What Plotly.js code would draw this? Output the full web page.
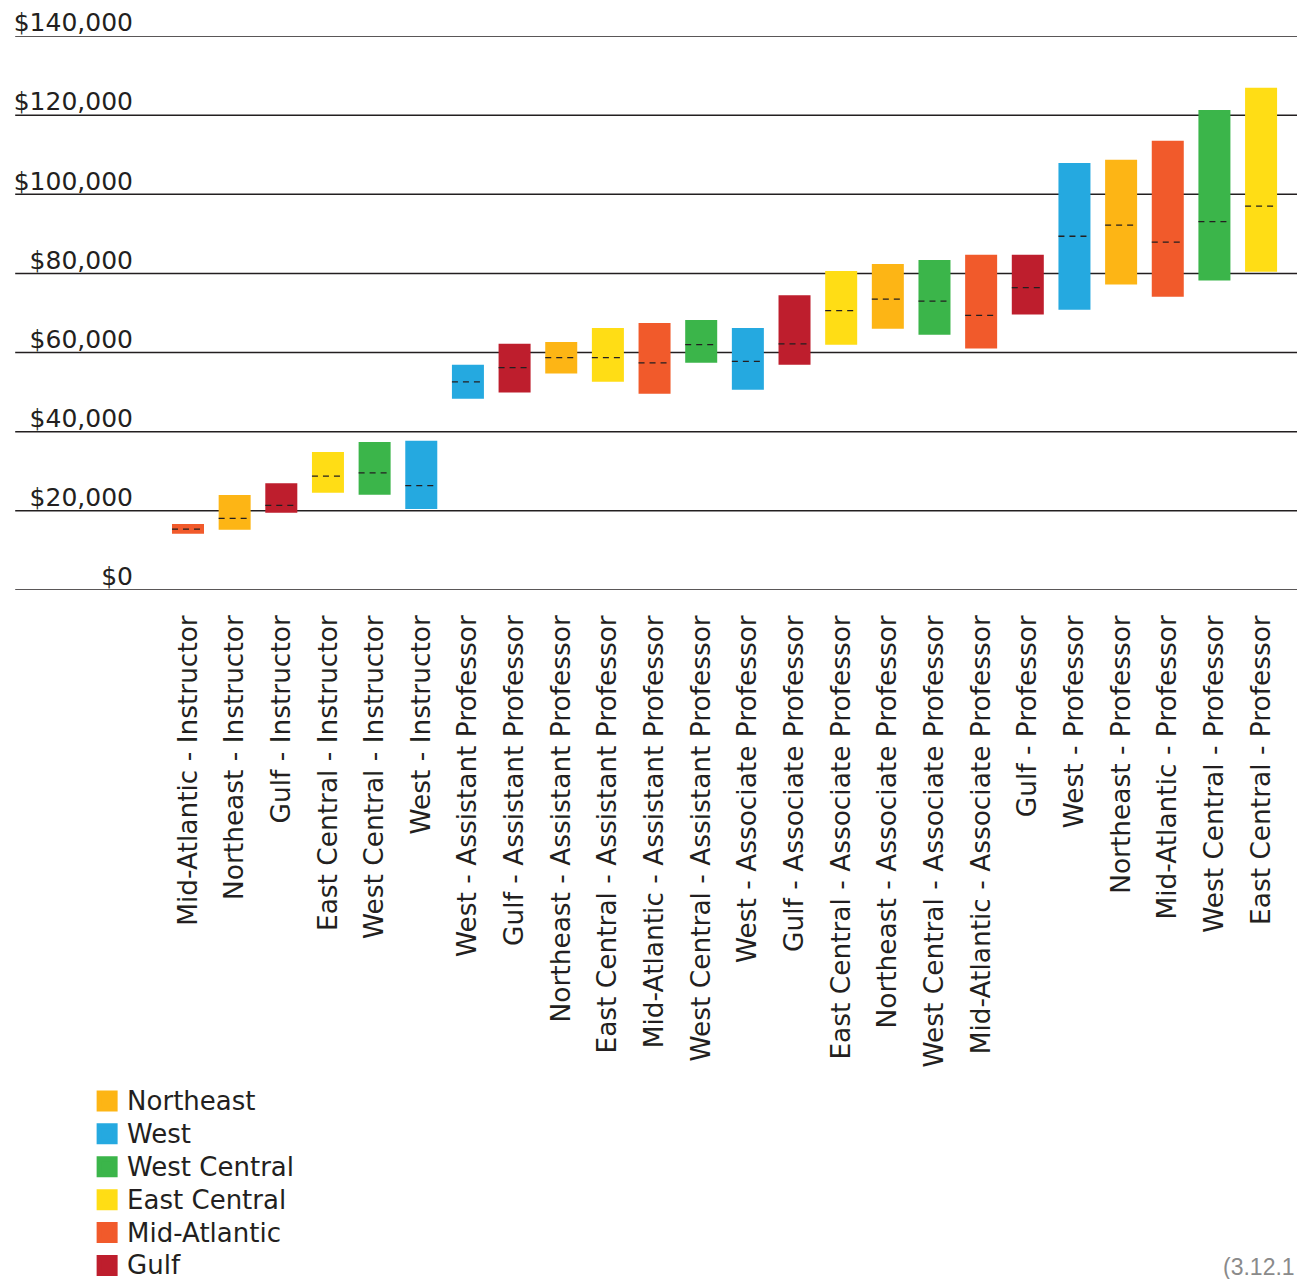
<!DOCTYPE html>
<html>
<head>
<meta charset="utf-8">
<script src="https://cdn.plot.ly/plotly-3.0.1.min.js"></script>
<style>html,body{margin:0;padding:0;background:#fff;}#chart{width:1297px;height:1279px;}</style>
</head>
<body>
<div id="chart"></div>
<script>
const categories = [
  "Mid-Atlantic - Instructor", "Northeast - Instructor", "Gulf - Instructor",
  "East Central - Instructor", "West Central - Instructor", "West - Instructor",
  "West - Assistant Professor", "Gulf - Assistant Professor", "Northeast - Assistant Professor",
  "East Central - Assistant Professor", "Mid-Atlantic - Assistant Professor", "West Central - Assistant Professor",
  "West - Associate Professor", "Gulf - Associate Professor", "East Central - Associate Professor",
  "Northeast - Associate Professor", "West Central - Associate Professor", "Mid-Atlantic - Associate Professor",
  "Gulf - Professor", "West - Professor", "Northeast - Professor",
  "Mid-Atlantic - Professor", "West Central - Professor", "East Central - Professor"
];
const barRegions = [
  "Mid-Atlantic", "Northeast", "Gulf", "East Central", "West Central", "West",
  "West", "Gulf", "Northeast", "East Central", "Mid-Atlantic", "West Central",
  "West", "Gulf", "East Central", "Northeast", "West Central", "Mid-Atlantic",
  "Gulf", "West", "Northeast", "Mid-Atlantic", "West Central", "East Central"
];
const lowValues = [
  14200, 15200, 19500, 24600, 24100, 20500,
  48300, 49900, 54700, 52600, 49600, 57400,
  50600, 56900, 62000, 66000, 64500, 61000,
  69600, 70800, 77200, 74100, 78200, 80400
];
const highValues = [
  16700, 24000, 27000, 34900, 37400, 37700,
  56900, 62200, 62700, 66200, 67500, 68200,
  66200, 74500, 80600, 82400, 83400, 84700,
  84700, 107900, 108700, 113500, 121300, 126900
];
const medianValues = [
  15400, 18100, 21400, 28800, 29600, 26400,
  52600, 56200, 58700, 58700, 57400, 62000,
  57800, 62200, 70600, 73500, 73000, 69400,
  76400, 89400, 92200, 87900, 93100, 97000
];
const legendRegions = ["Northeast", "West", "West Central", "East Central", "Mid-Atlantic", "Gulf"];
const regionColors = {
  "Northeast": "#FDB515",
  "West": "#25A9E0",
  "West Central": "#3BB54A",
  "East Central": "#FFDD15",
  "Mid-Atlantic": "#F15A2B",
  "Gulf": "#BE1E2D"
};
const yTickVals = [0, 20000, 40000, 60000, 80000, 100000, 120000, 140000];
const yTickText = ["$0", "$20,000", "$40,000", "$60,000", "$80,000", "$100,000", "$120,000", "$140,000"];

const BAR_W = 0.686;
const INK = "#231F20";
const traces = [];

legendRegions.forEach(function (reg) {
  const idx = [];
  barRegions.forEach(function (r, i) { if (r === reg) idx.push(i); });
  traces.push({
    type: "bar",
    name: reg,
    showlegend: false,
    x: idx,
    base: idx.map(i => lowValues[i]),
    y: idx.map(i => highValues[i] - lowValues[i]),
    width: BAR_W,
    marker: { color: regionColors[reg], line: { width: 0 } },
    hoverinfo: "skip"
  });
});

// median dashed lines
const mx = [], my = [];
medianValues.forEach(function (m, i) {
  mx.push(i - BAR_W / 2, i + BAR_W / 2, null);
  my.push(m, m, null);
});
traces.push({
  type: "scatter",
  mode: "lines",
  x: mx, y: my,
  showlegend: false,
  hoverinfo: "skip",
  line: { color: INK, width: 1.3, dash: "6px,5px" }
});

// legend entries
legendRegions.forEach(function (reg) {
  traces.push({
    type: "scatter",
    mode: "markers",
    name: '<span style="font-size:26px">' + reg + '</span>',
    x: [null], y: [null],
    marker: { symbol: "square", size: 19, color: regionColors[reg], line: { width: 5, color: regionColors[reg] } },
    hoverinfo: "skip"
  });
});

const shapes = yTickVals.map(v => ({
  type: "line", xref: "paper", yref: "y",
  x0: -0.105, x1: 1, y0: v, y1: v,
  line: { color: INK, width: 1.5 },
  layer: "below"
}));

const layout = {
  width: 1297,
  height: 1279,
  margin: { l: 137, r: 0, t: 36, b: 689, autoexpand: false },
  paper_bgcolor: "#ffffff",
  plot_bgcolor: "#ffffff",
  font: { family: "DejaVu Sans", color: INK },
  barmode: "overlay",
  hovermode: false,
  xaxis: {
    range: [-1.093, 23.77],
    tickmode: "array",
    tickvals: categories.map((c, i) => i),
    ticktext: categories,
    tickangle: -90,
    tickfont: { family: "DejaVu Sans", size: 26.4, color: INK },
    showgrid: false, zeroline: false, showline: false,
    ticks: "",
    ticklabelstandoff: 19,
    automargin: false
  },
  yaxis: {
    range: [0, 140000],
    tickmode: "array",
    tickvals: yTickVals,
    ticktext: yTickText,
    ticklabelposition: "outside top",
    ticklabelshift: 4,
    ticklabelstandoff: 3,
    tickfont: { family: "DejaVu Sans", size: 25, color: INK },
    showgrid: false, zeroline: false, showline: false,
    ticks: "",
    automargin: false
  },
  shapes: shapes,
  showlegend: true,
  legend: {
    xref: "paper", yref: "container",
    x: -0.043, y: 0.156, xanchor: "left", yanchor: "top",
    orientation: "v",
    font: { family: "DejaVu Sans", size: 23, color: INK },
    bgcolor: "rgba(0,0,0,0)",
    traceorder: "normal"
  },
  annotations: [{
    xref: "paper", yref: "paper",
    x: 1, y: -1.222, xanchor: "right", yanchor: "middle",
    text: "(3.12.1", showarrow: false,
    font: { family: "Liberation Sans", size: 23, color: "#8a8a8a" }
  }]
};

Plotly.newPlot("chart", traces, layout, { displayModeBar: false, staticPlot: true });
</script>
</body>
</html>
